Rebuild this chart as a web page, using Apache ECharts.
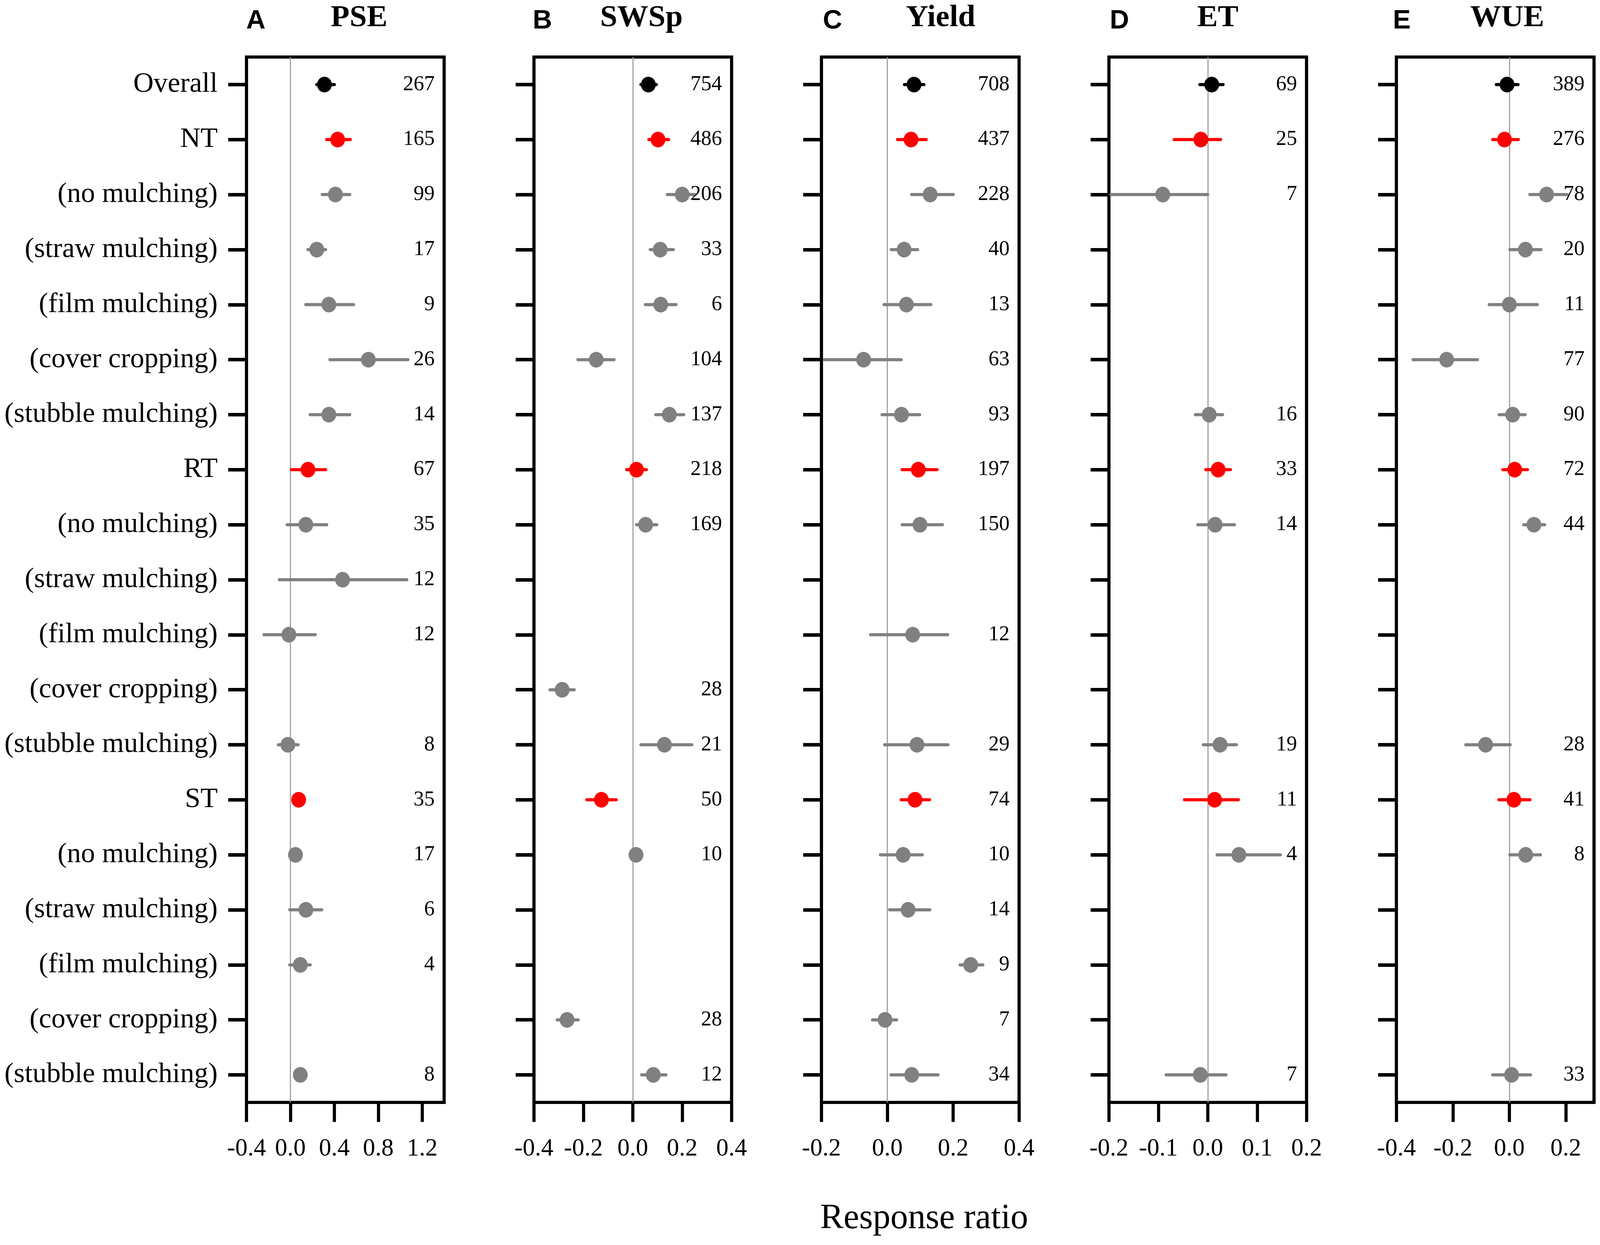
<!DOCTYPE html>
<html>
<head>
    <meta charset="utf-8">
    <title>Response ratio</title>
    <script src="https://cdn.jsdelivr.net/npm/echarts@6/dist/echarts.min.js"></script>
    <style>
        html, body { margin: 0; padding: 0; background: #fff; overflow: hidden; }
        #main { width: 100vw; height: 100vh; }
    </style>
</head>
<body>
<div id="main"></div>
<script>
    // row labels (shared by all panels)
    var rowLabels = ['Overall', 'NT', '(no mulching)', '(straw mulching)', '(film mulching)', '(cover cropping)', '(stubble mulching)',
        'RT', '(no mulching)', '(straw mulching)', '(film mulching)', '(cover cropping)', '(stubble mulching)',
        'ST', '(no mulching)', '(straw mulching)', '(film mulching)', '(cover cropping)', '(stubble mulching)'];
    var rowColors = ['#000000', '#ff0000', '#808080', '#808080', '#808080', '#808080', '#808080',
        '#ff0000', '#808080', '#808080', '#808080', '#808080', '#808080',
        '#ff0000', '#808080', '#808080', '#808080', '#808080', '#808080'];

    var panelLetters = ['A', 'B', 'C', 'D', 'E'];
    var panelTitles = ['PSE', 'SWSp', 'Yield', 'ET', 'WUE'];

    // x axis ranges and tick labels
    var axisMin = [-0.4, -0.4, -0.2, -0.2, -0.4];
    var axisMax = [1.4, 0.4, 0.4, 0.2, 0.3];
    var ticksPSE = [-0.4, 0.0, 0.4, 0.8, 1.2];
    var ticksSWSp = [-0.4, -0.2, 0.0, 0.2, 0.4];
    var ticksYield = [-0.2, 0.0, 0.2, 0.4];
    var ticksET = [-0.2, -0.1, 0.0, 0.1, 0.2];
    var ticksWUE = [-0.4, -0.2, 0.0, 0.2];

    // PSE
    var psMean = [0.31, 0.43, 0.41, 0.24, 0.35, 0.71, 0.35, 0.16, 0.14, 0.475, -0.014, null, -0.023, 0.075, 0.046, 0.141, 0.09, null, 0.09];
    var psLo = [0.24, 0.33, 0.29, 0.16, 0.14, 0.36, 0.18, 0.01, -0.03, -0.10, -0.24, null, -0.11, 0.06, 0.03, -0.006, -0.006, null, 0.08];
    var psHi = [0.40, 0.545, 0.54, 0.32, 0.575, 1.07, 0.54, 0.32, 0.33, 1.06, 0.225, null, 0.07, 0.09, 0.06, 0.285, 0.18, null, 0.10];
    var psN = [267, 165, 99, 17, 9, 26, 14, 67, 35, 12, 12, null, 8, 35, 17, 6, 4, null, 8];

    // SWSp
    var swMean = [0.063, 0.102, 0.2, 0.111, 0.113, -0.148, 0.148, 0.015, 0.052, null, null, -0.286, 0.128, -0.127, 0.013, null, null, -0.266, 0.083];
    var swLo = [0.033, 0.065, 0.14, 0.071, 0.051, -0.222, 0.093, -0.025, 0.015, null, null, -0.335, 0.033, -0.186, 0.005, null, null, -0.306, 0.036];
    var swHi = [0.095, 0.145, 0.25, 0.164, 0.175, -0.076, 0.206, 0.055, 0.097, null, null, -0.237, 0.239, -0.067, 0.02, null, null, -0.221, 0.134];
    var swN = [754, 486, 206, 33, 6, 104, 137, 218, 169, null, null, 28, 21, 50, 10, null, null, 28, 12];

    // Yield
    var ydMean = [0.081, 0.072, 0.13, 0.051, 0.058, -0.072, 0.043, 0.094, 0.099, null, 0.077, null, 0.09, 0.084, 0.048, 0.063, 0.253, -0.007, 0.074];
    var ydLo = [0.052, 0.031, 0.074, 0.012, -0.01, -0.191, -0.016, 0.045, 0.045, null, -0.051, null, -0.008, 0.042, -0.021, 0.007, 0.221, -0.045, 0.011];
    var ydHi = [0.111, 0.118, 0.2, 0.092, 0.132, 0.042, 0.098, 0.151, 0.167, null, 0.183, null, 0.184, 0.128, 0.106, 0.129, 0.29, 0.028, 0.154];
    var ydN = [708, 437, 228, 40, 13, 63, 93, 197, 150, null, 12, null, 29, 74, 10, 14, 9, 7, 34];

    // ET
    var etMean = [0.008, -0.014, -0.091, null, null, null, 0.003, 0.021, 0.015, null, null, null, 0.025, 0.014, 0.063, null, null, null, -0.015];
    var etLo = [-0.016, -0.068, -0.196, null, null, null, -0.025, -0.004, -0.02, null, null, null, -0.009, -0.047, 0.019, null, null, null, -0.084];
    var etHi = [0.031, 0.026, 0.0, null, null, null, 0.03, 0.046, 0.054, null, null, null, 0.058, 0.062, 0.147, null, null, null, 0.037];
    var etN = [69, 25, 7, null, null, null, 16, 33, 14, null, null, null, 19, 11, 4, null, null, null, 7];

    // WUE
    var wuMean = [-0.008, -0.017, 0.132, 0.057, 0.0, -0.222, 0.012, 0.019, 0.087, null, null, null, -0.084, 0.016, 0.058, null, null, null, 0.008];
    var wuLo = [-0.046, -0.059, 0.073, 0.002, -0.071, -0.341, -0.036, -0.023, 0.051, null, null, null, -0.154, -0.037, 0.002, null, null, null, -0.059];
    var wuHi = [0.031, 0.032, 0.204, 0.112, 0.099, -0.113, 0.056, 0.064, 0.125, null, null, null, 0.003, 0.073, 0.11, null, null, null, 0.075];
    var wuN = [389, 276, 78, 20, 11, 77, 90, 72, 44, null, null, null, 28, 41, 8, null, null, null, 33];

    var panels = [
        {mean: psMean, lo: psLo, hi: psHi, n: psN, ticks: ticksPSE},
        {mean: swMean, lo: swLo, hi: swHi, n: swN, ticks: ticksSWSp},
        {mean: ydMean, lo: ydLo, hi: ydHi, n: ydN, ticks: ticksYield},
        {mean: etMean, lo: etLo, hi: etHi, n: etN, ticks: ticksET},
        {mean: wuMean, lo: wuLo, hi: wuHi, n: wuN, ticks: ticksWUE}
    ];

    // layout is written in pixels of the 4550 x 3187 design and fitted to the real window
    var dom = document.getElementById('main');
    var sx = dom.clientWidth / 4550;
    var sy = dom.clientHeight / 3187;
    function X(v) { return v * sx; }
    function Y(v) { return v * sy; }
    function F(v) { return v * sx; }   // font sizes follow the width so labels keep their room

    var gridTop = 146, gridHeight = 2676, gridWidth = 562;
    var firstLeft = 701, panelStep = 817.5;
    var titleX = [1021, 1824, 2675, 3463, 4286];
    var letterX = [700, 1515, 2340, 3156, 3961];

    var serif = '"Liberation Serif", "Times New Roman", serif';
    var sans = '"Liberation Sans", Arial, sans-serif';

    function renderItem(params, api) {
        var row = api.value(1);
        var c = api.coord([api.value(0), row]);
        var lo = api.coord([api.value(2), row]);
        var hi = api.coord([api.value(3), row]);
        var cs = params.coordSys;
        var color = rowColors[row];
        return {
            type: 'group',
            children: [
                {
                    type: 'line',
                    shape: {x1: lo[0], y1: c[1], x2: hi[0], y2: c[1]},
                    style: {stroke: color, lineWidth: Y(8), lineCap: 'round'}
                },
                {
                    type: 'ellipse',
                    shape: {cx: c[0], cy: c[1], rx: X(21), ry: Y(20)},
                    style: {fill: color}
                },
                {
                    type: 'text',
                    x: cs.x + cs.width - X(27),
                    y: c[1],
                    style: {
                        text: String(api.value(4)),
                        font: F(60) + 'px ' + serif,
                        fill: '#000',
                        align: 'right', verticalAlign: 'middle',
                        textAlign: 'right', textVerticalAlign: 'middle'
                    }
                }
            ]
        };
    }

    var grids = [], xAxes = [], yAxes = [], series = [], graphics = [];

    for (var i = 0; i < panels.length; i++) {
        var p = panels[i];
        grids.push({
            left: X(firstLeft + panelStep * i),
            top: Y(gridTop),
            width: X(gridWidth),
            height: Y(gridHeight),
            show: true,
            borderColor: '#000',
            borderWidth: X(9),
            backgroundColor: 'transparent'
        });
        xAxes.push({
            type: 'value',
            gridIndex: i,
            min: axisMin[i],
            max: axisMax[i],
            axisLine: {show: false, onZero: false},
            splitLine: {show: false},
            axisTick: {
                show: true,
                length: Y(50),
                customValues: p.ticks,
                lineStyle: {color: '#000', width: X(9)}
            },
            axisLabel: {
                customValues: p.ticks,
                formatter: function (v) { return v.toFixed(1); },
                fontFamily: serif,
                fontSize: F(70),
                color: '#000',
                margin: Y(88)
            }
        });
        yAxes.push({
            type: 'category',
            gridIndex: i,
            position: 'left',
            inverse: true,
            data: rowLabels,
            boundaryGap: true,
            axisLine: {show: false, onZero: false},
            splitLine: {show: false},
            axisTick: {
                show: true,
                alignWithLabel: true,
                interval: 0,
                length: X(52),
                lineStyle: {color: '#000', width: Y(9)}
            },
            axisLabel: {
                show: i === 0,
                interval: 0,
                fontFamily: serif,
                fontSize: F(80),
                color: '#000',
                margin: X(82)
            }
        });

        var data = [];
        for (var r = 0; r < rowLabels.length; r++) {
            if (p.mean[r] === null) continue;
            data.push([p.mean[r], r, p.lo[r], p.hi[r], p.n[r]]);
        }
        series.push({
            type: 'custom',
            xAxisIndex: i,
            yAxisIndex: i,
            z: 3,
            clip: true,
            renderItem: renderItem,
            encode: {x: [0, 2, 3], y: 1},
            data: data,
            markLine: {
                silent: true,
                z: 1,
                symbol: ['none', 'none'],
                label: {show: false},
                lineStyle: {color: '#999999', width: X(3), type: 'solid'},
                data: [{xAxis: 0}]
            }
        });

        graphics.push({
            type: 'text',
            x: X(letterX[i]),
            y: Y(54),
            style: {
                text: panelLetters[i],
                font: 'bold ' + F(76) + 'px ' + sans,
                fill: '#000',
                align: 'left', verticalAlign: 'middle',
                textAlign: 'left', textVerticalAlign: 'middle'
            }
        });
        graphics.push({
            type: 'text',
            x: X(titleX[i]),
            y: Y(47),
            style: {
                text: panelTitles[i],
                font: 'bold ' + F(88) + 'px ' + serif,
                fill: '#000',
                align: 'center', verticalAlign: 'middle',
                textAlign: 'center', textVerticalAlign: 'middle'
            }
        });
    }

    graphics.push({
        type: 'text',
        x: X(2628),
        y: Y(3120),
        style: {
            text: 'Response ratio',
            font: F(100) + 'px ' + serif,
            fill: '#000',
            align: 'center', verticalAlign: 'middle',
            textAlign: 'center', textVerticalAlign: 'middle'
        }
    });

    var myChart = echarts.init(dom);
    myChart.setOption({
        animation: false,
        backgroundColor: '#fff',
        grid: grids,
        xAxis: xAxes,
        yAxis: yAxes,
        series: series,
        graphic: graphics
    });
</script>
</body>
</html>
